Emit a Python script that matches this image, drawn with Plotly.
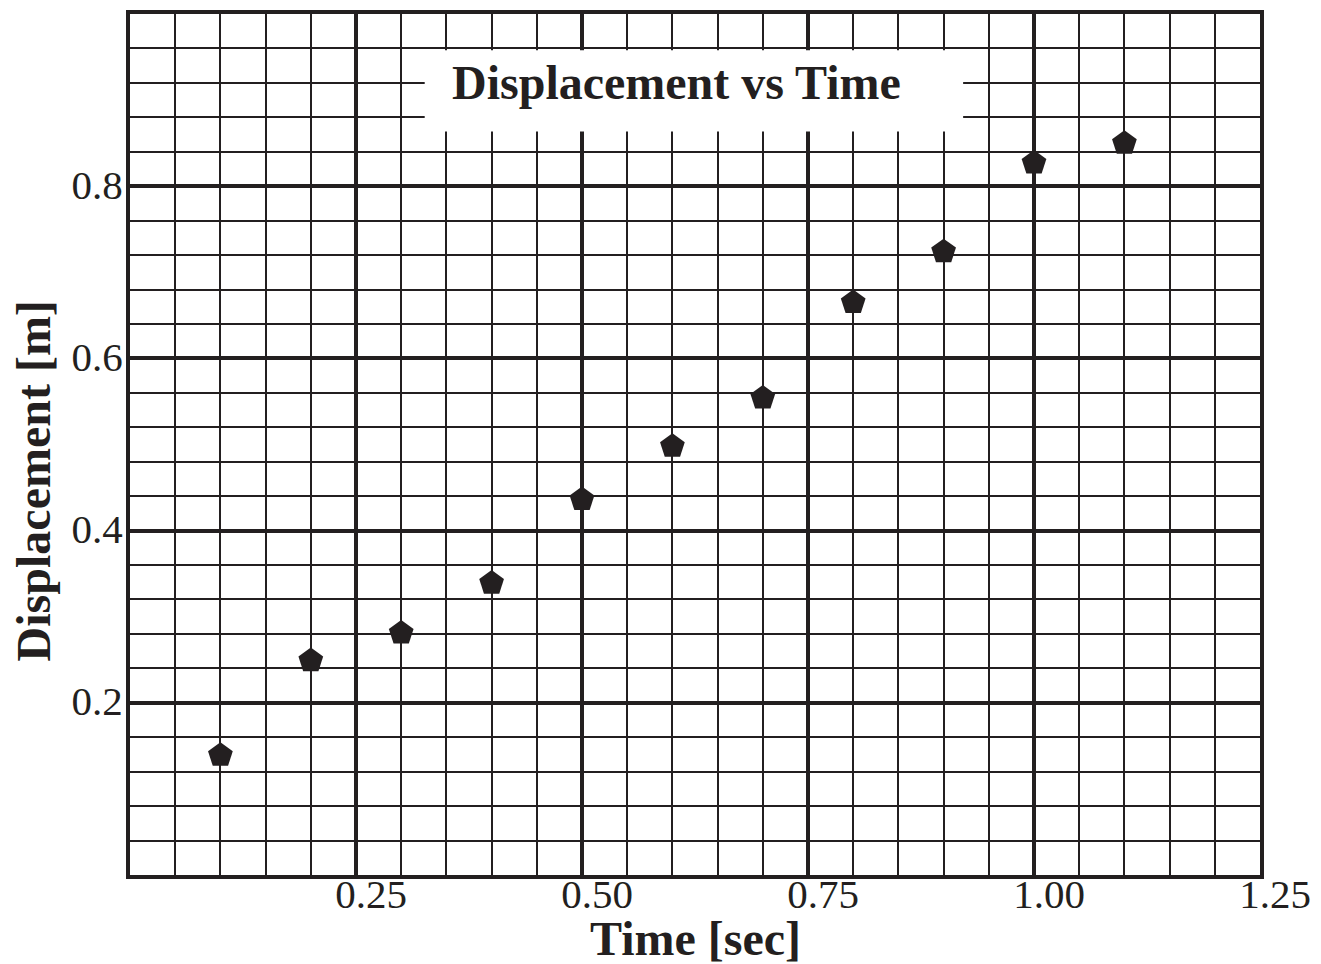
import plotly.graph_objects as go

time_s = [0.1, 0.2, 0.3, 0.4, 0.5, 0.6, 0.7, 0.8, 0.9, 1.0, 1.1]
displacement_m = [0.139, 0.249, 0.281, 0.339, 0.436, 0.498, 0.554, 0.665, 0.724, 0.827, 0.850]

x_tickvals = [0.25, 0.50, 0.75, 1.00, 1.25]
x_ticktext = ["0.25", "0.50", "0.75", "1.00", "1.25"]
y_tickvals = [0.2, 0.4, 0.6, 0.8]
y_ticktext = ["0.2", "0.4", "0.6", "0.8"]

ink = "#231f20"
font_family = "Liberation Serif, Times New Roman, serif"

fig = go.Figure()
fig.add_trace(go.Scatter(
    x=time_s, y=displacement_m, mode="markers",
    marker=dict(symbol="pentagon", size=26, color=ink, line=dict(width=0)),
    showlegend=False, cliponaxis=False,
))

fig.update_layout(
    width=1321, height=964,
    margin=dict(l=130, r=54, t=10, b=89),
    paper_bgcolor="white", plot_bgcolor="white",
    font=dict(family=font_family, color=ink, size=41),
    xaxis=dict(
        range=[0, 1.25], tickmode="array", tickvals=x_tickvals, ticktext=x_ticktext,
        showgrid=True, gridcolor=ink, gridwidth=4,
        minor=dict(dtick=0.05, tick0=0, showgrid=True, gridcolor=ink, gridwidth=2),
        showline=True, linecolor=ink, linewidth=4, mirror=True,
        ticks="", zeroline=False, ticklabelshift=15, ticklabelstandoff=-20,
        tickfont=dict(size=41, family=font_family, color=ink),
    ),
    yaxis=dict(
        range=[0, 1.0], tickmode="array", tickvals=y_tickvals, ticktext=y_ticktext,
        showgrid=True, gridcolor=ink, gridwidth=4,
        minor=dict(dtick=0.04, tick0=0, showgrid=True, gridcolor=ink, gridwidth=2),
        showline=True, linecolor=ink, linewidth=4, mirror=True,
        ticks="", zeroline=False, ticklabelstandoff=-5, ticklabelshift=-2,
        tickfont=dict(size=41, family=font_family, color=ink),
    ),
    shapes=[dict(
        type="rect", xref="x", yref="y",
        x0=0.326, x1=0.9216, y0=0.8636, y1=0.958,
        fillcolor="white", line=dict(width=0), layer="above",
    )],
    annotations=[
        dict(text="<b>Displacement vs Time</b>", xref="x", yref="y", x=0.604, y=0.92,
             showarrow=False, xanchor="center", yanchor="middle",
             font=dict(size=48, family=font_family, color=ink)),
        dict(text="<b>Time [sec]</b>", xref="paper", yref="paper", x=0.5, y=-0.0735,
             showarrow=False, xanchor="center", yanchor="middle",
             font=dict(size=48, family=font_family, color=ink)),
        dict(text="<b>Displacement [m]</b>", xref="paper", yref="paper", x=-0.0852, y=0.458,
             showarrow=False, xanchor="center", yanchor="middle", textangle=-90,
             font=dict(size=48, family=font_family, color=ink)),
    ],
)

fig.write_html(
    "out.html",
    config={"displayModeBar": False},
    post_script="document.body.style.margin='0';document.body.style.overflow='hidden';",
)
